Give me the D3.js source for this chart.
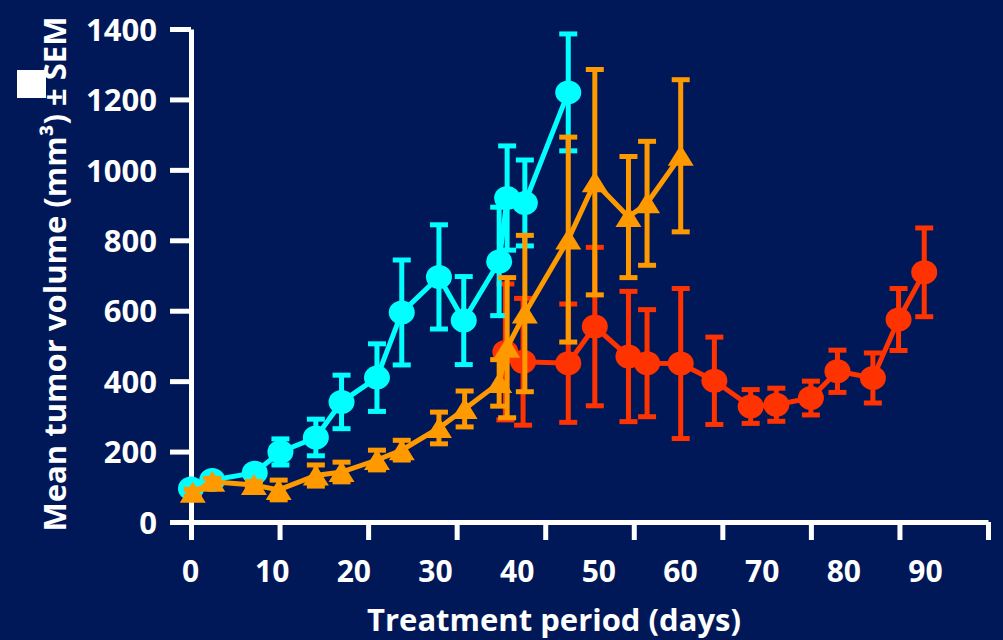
<!DOCTYPE html>
<html>
<head>
<meta charset="utf-8">
<script src="https://cdn.jsdelivr.net/npm/d3@7"></script>
<style>
  html, body { margin: 0; padding: 0; background: #011858; }
  svg { display: block; }
  text { font-family: "Open Sans", Lato, sans-serif; font-weight: bold; fill: #fff; }
</style>
</head>
<body>
<div id="graph"></div>
<script>
// Tumor volume over time, three groups (mean +- SEM)

// Cyan group (circles)
const cyanDays = [0, 2.4, 7.2, 10.1, 14.1, 17, 21, 23.8, 28, 30.8, 34.8, 35.7, 37.7, 42.6];
const cyanMean = [95, 119, 140, 199, 240, 341, 410, 595, 696, 572, 740, 920, 906, 1220];
const cyanSem = [15, 12, 15, 37, 52, 76, 96, 149, 148, 125, 154, 148, 122, 166];

// Orange group (triangles)
const orangeDays = [0.2, 2.4, 7.1, 9.9, 14.1, 17, 21, 23.8, 28, 30.9, 34.8, 35.7, 37.7, 42.6, 45.6, 49.4, 51.5, 55.3];
const orangeMean = [83, 114, 105, 91, 132, 142, 176, 204, 267, 321, 395, 495, 592, 802, 965, 866, 905, 1040];
const orangeSem = [10, 10, 10, 28, 30, 28, 28, 28, 45, 51, 66, 199, 222, 291, 320, 172, 176, 216];

// Red group (circles)
const redDays = [35.5, 37.5, 42.6, 45.6, 49.4, 51.5, 55.3, 59.1, 63.2, 66.1, 70, 73, 77, 79.9, 82.8];
const redMean = [483, 455, 451, 555, 470, 451, 450, 401, 328, 333, 352, 428, 409, 575, 709];
const redSem = [193, 180, 168, 225, 185, 152, 213, 124, 48, 47, 48, 60, 71, 88, 126];

// Axis ticks and labels
const xTickValues = [0, 10, 20, 30, 40, 50, 60, 70, 80, 90];
const xTickLabels = ['0', '10', '20', '30', '40', '50', '60', '70', '80', '90'];
const yTickValues = [0, 200, 400, 600, 800, 1000, 1200, 1400];

const width = 1003;
const height = 640;

const svg = d3.select('#graph')
  .append('svg')
  .attr('width', width)
  .attr('height', height);

svg.append('rect')
  .attr('width', width)
  .attr('height', height)
  .attr('fill', '#011858');

// Scales: data sit on the tick scale, the printed numbers are squeezed a bit
const x = d3.scaleLinear().domain([0, 90]).range([191, 988]);
const xLabel = d3.scaleLinear().domain([0, 90]).range([190, 925]);
const y = d3.scaleLinear().domain([0, 1400]).range([522, 29]);

/*
 * Axes
 */
const xAxis = svg.append('g')
  .attr('transform', 'translate(0,522)')
  .call(d3.axisBottom(x).tickValues(xTickValues).tickSize(18).tickSizeOuter(0).tickFormat(''));
xAxis.selectAll('path, line').attr('stroke', '#fff').attr('stroke-width', 5);

const xLabels = svg.append('g')
  .attr('transform', 'translate(0,522)')
  .call(d3.axisBottom(xLabel).tickValues(xTickValues).tickSize(0).tickPadding(0)
    .tickFormat((d, i) => xTickLabels[i]));
xLabels.select('.domain').remove();
xLabels.selectAll('text')
  .attr('y', 60)
  .attr('dy', null)
  .style('font-size', '30px');

const yAxis = svg.append('g')
  .attr('transform', 'translate(191,0)')
  .call(d3.axisLeft(y).tickValues(yTickValues).tickSize(21).tickSizeOuter(0).tickPadding(13)
    .tickFormat(d3.format('d')));
yAxis.selectAll('path, line').attr('stroke', '#fff').attr('stroke-width', 5);
yAxis.selectAll('text')
  .attr('dy', '0.36em')
  .style('font-size', '31px');

// Axis titles
svg.append('text')
  .attr('x', 554)
  .attr('y', 631)
  .attr('text-anchor', 'middle')
  .style('font-size', '31px')
  .text('Treatment period (days)');

svg.append('text')
  .attr('transform', 'translate(66,274) rotate(-90)')
  .attr('text-anchor', 'middle')
  .style('font-size', '31px')
  .text('Mean tumor volume (mm³) ± SEM');

// stray white box next to the y title
svg.append('rect')
  .attr('x', 17)
  .attr('y', 70)
  .attr('width', 29)
  .attr('height', 28)
  .attr('fill', '#fff');

/*
 * Series
 */
function drawSeries(days, mean, sem, color, shape) {
  const data = days.map((d, i) => ({ day: d, mean: mean[i], sem: sem[i] }));
  const g = svg.append('g');

  // error bars
  const bars = g.selectAll('.err')
    .data(data)
    .enter()
    .append('g')
    .attr('stroke', color)
    .attr('stroke-width', 5);
  bars.append('line')
    .attr('x1', (d) => x(d.day))
    .attr('x2', (d) => x(d.day))
    .attr('y1', (d) => y(d.mean + d.sem))
    .attr('y2', (d) => y(d.mean - d.sem));
  bars.append('line')
    .attr('x1', (d) => x(d.day) - 9)
    .attr('x2', (d) => x(d.day) + 9)
    .attr('y1', (d) => y(d.mean + d.sem))
    .attr('y2', (d) => y(d.mean + d.sem));
  bars.append('line')
    .attr('x1', (d) => x(d.day) - 9)
    .attr('x2', (d) => x(d.day) + 9)
    .attr('y1', (d) => y(d.mean - d.sem))
    .attr('y2', (d) => y(d.mean - d.sem));

  // connecting line
  g.append('path')
    .datum(data)
    .attr('fill', 'none')
    .attr('stroke', color)
    .attr('stroke-width', 5)
    .attr('d', d3.line().x((d) => x(d.day)).y((d) => y(d.mean)));

  // markers
  if (shape === 'circle') {
    g.selectAll('.marker')
      .data(data)
      .enter()
      .append('ellipse')
      .attr('cx', (d) => x(d.day))
      .attr('cy', (d) => y(d.mean))
      .attr('rx', 13)
      .attr('ry', 12)
      .attr('fill', color);
  } else {
    g.selectAll('.marker')
      .data(data)
      .enter()
      .append('path')
      .attr('transform', (d) => `translate(${x(d.day)},${y(d.mean)})`)
      .attr('d', 'M0,-11L13,10L-13,10Z')
      .attr('fill', color);
  }
}

drawSeries(redDays, redMean, redSem, '#ff3300', 'circle');
drawSeries(cyanDays, cyanMean, cyanSem, '#00ffff', 'circle');
drawSeries(orangeDays, orangeMean, orangeSem, '#ff9900', 'triangle');
</script>
</body>
</html>
